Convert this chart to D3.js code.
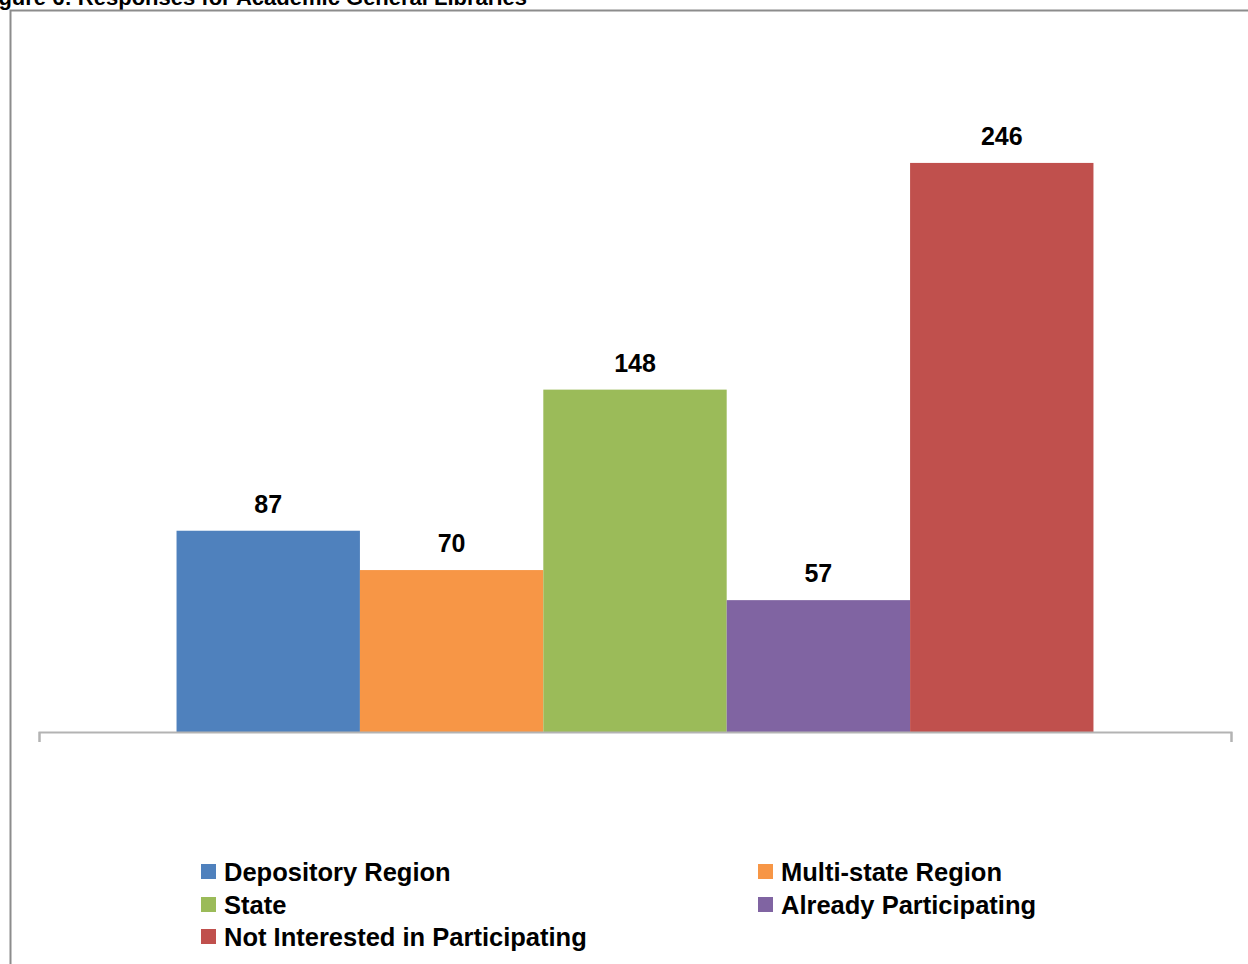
<!DOCTYPE html>
<html>
<head>
<meta charset="utf-8">
<script src="https://cdn.jsdelivr.net/npm/d3@7"></script>
<style>
  body { margin: 0; background: #fff; }
  svg { display: block; }
</style>
</head>
<body>
<div class="chart"></div>
<script>
// data
var categories = ["Depository Region", "Multi-state Region", "State", "Already Participating", "Not Interested in Participating"];
var values = [87, 70, 148, 57, 246];
var colors = ["#4F81BD", "#F79646", "#9BBB59", "#8064A2", "#C0504D"];
var titleText = "Figure 6: Responses for Academic General Libraries";

var width = 1248, height = 964;

var svg = d3.select("div.chart")
    .append("svg")
    .attr("width", width)
    .attr("height", height);

// title, cut off at the top of the page like in the source
svg.append("text")
    .attr("x", 527)
    .attr("y", 5)
    .attr("text-anchor", "end")
    .style("font-family", "Liberation Sans, Arial, sans-serif")
    .style("font-weight", "bold")
    .style("font-size", "22px")
    .text(titleText);

// chart frame
svg.append("rect")
    .attr("x", 10.5)
    .attr("y", 10.5)
    .attr("width", 1300)
    .attr("height", 1000)
    .attr("fill", "#fff")
    .attr("stroke", "#8c8c8c")
    .attr("stroke-width", 2);

// plot area
var plot = {left: 39, right: 1231, top: 38, bottom: 732};

// one category group, gap width 150%
var groupW = (plot.right - plot.left) * categories.length / (categories.length + 1.5);
var groupX = (plot.left + plot.right) / 2 - groupW / 2;

var x = d3.scaleBand()
    .domain(categories)
    .range([groupX, groupX + groupW])
    .padding(0);

var y = d3.scaleLinear()
    .domain([0, 300])
    .range([plot.bottom, plot.top]);

var data = categories.map(function (c, i) {
    return {name: c, value: values[i], color: colors[i]};
});

// bars
svg.selectAll("rect.bar")
    .data(data)
    .enter().append("rect")
    .attr("class", "bar")
    .attr("x", function (d) { return x(d.name); })
    .attr("width", x.bandwidth())
    .attr("y", function (d) { return y(d.value); })
    .attr("height", function (d) { return y(0) - y(d.value); })
    .attr("fill", function (d) { return d.color; });

// value labels
svg.selectAll("text.label")
    .data(data)
    .enter().append("text")
    .attr("class", "label")
    .attr("x", function (d) { return x(d.name) + x.bandwidth() / 2; })
    .attr("y", function (d) { return y(d.value) - 18; })
    .attr("text-anchor", "middle")
    .style("font-family", "Liberation Sans, Arial, sans-serif")
    .style("font-weight", "bold")
    .style("font-size", "25px")
    .style("fill", "#000")
    .text(function (d) { return d.value; });

// category axis: line with end ticks only
var xAxis = svg.append("g")
    .attr("transform", "translate(0," + plot.bottom + ")")
    .call(d3.axisBottom(d3.scaleLinear().domain([0, 1]).range([plot.left, plot.right]))
        .tickValues([0, 1])
        .tickSize(10)
        .tickSizeOuter(10)
        .tickFormat(""));
xAxis.selectAll("path, line")
    .attr("stroke", "#b3b3b3")
    .attr("stroke-width", 2);

// legend, two columns
var legendCols = [201, 758];
var legendRows = [872, 905, 937];

var legend = svg.selectAll("g.legend")
    .data(data)
    .enter().append("g")
    .attr("class", "legend")
    .attr("transform", function (d, i) {
        return "translate(" + legendCols[i % 2] + "," + legendRows[Math.floor(i / 2)] + ")";
    });

legend.append("rect")
    .attr("x", 0)
    .attr("y", -8)
    .attr("width", 15)
    .attr("height", 15)
    .attr("fill", function (d) { return d.color; });

legend.append("text")
    .attr("x", 23)
    .attr("y", 0)
    .attr("dy", "0.35em")
    .style("font-family", "Liberation Sans, Arial, sans-serif")
    .style("font-weight", "bold")
    .style("font-size", "25.5px")
    .style("fill", "#000")
    .text(function (d) { return d.name; });
</script>
</body>
</html>
